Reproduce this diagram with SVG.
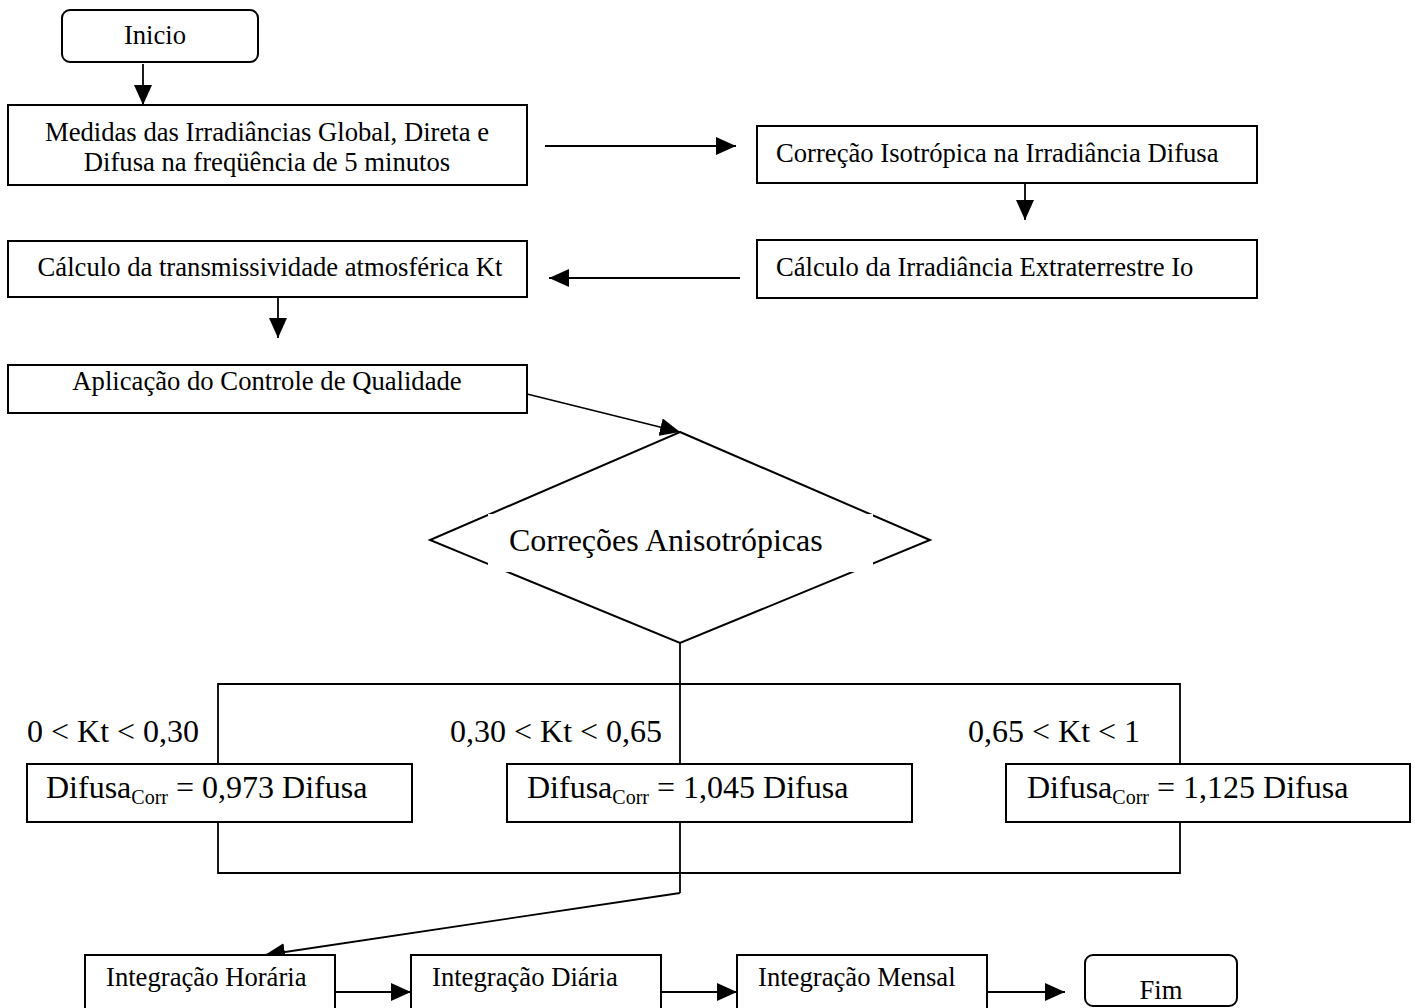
<svg xmlns="http://www.w3.org/2000/svg" width="1415" height="1008" viewBox="0 0 1415 1008">
<style>
.box{fill:#fff;stroke:#000;stroke-width:2}
.ln{fill:none;stroke:#000;stroke-width:1.8}
.t{font-family:"Liberation Serif","Times New Roman",serif;font-size:26.67px;fill:#000}
.b{font-family:"Liberation Serif","Times New Roman",serif;font-size:32px;fill:#000}
.s{font-size:20px}
</style>
<defs>
<marker id="ah" viewBox="0 0 20 18" refX="20" refY="9" markerWidth="20" markerHeight="18" markerUnits="userSpaceOnUse" orient="auto">
<path d="M0,0 L20,9 L0,18 z" fill="#000"/>
</marker>
</defs>
<rect width="1415" height="1008" fill="#fff"/>
<g id="connectors">
<line class="ln" x1="143" y1="64" x2="143" y2="105" marker-end="url(#ah)"/>
<line class="ln" x1="545" y1="146" x2="736" y2="146" marker-end="url(#ah)"/>
<line class="ln" x1="1025" y1="183" x2="1025" y2="220" marker-end="url(#ah)"/>
<line class="ln" x1="740" y1="278" x2="549" y2="278" marker-end="url(#ah)"/>
<line class="ln" x1="278" y1="297" x2="278" y2="338" marker-end="url(#ah)"/>
<line class="ln" x1="527" y1="394" x2="680" y2="432" marker-end="url(#ah)"/>
<line class="ln" x1="680" y1="643" x2="680" y2="764"/>
<polyline class="ln" points="218,764 218,684 1180,684 1180,764"/>
<polyline class="ln" points="218,822 218,873 1180,873 1180,822"/>
<line class="ln" x1="680" y1="822" x2="680" y2="893"/>
<line class="ln" x1="680" y1="893" x2="265" y2="955" marker-end="url(#ah)"/>
<line class="ln" x1="335" y1="992" x2="411" y2="992" marker-end="url(#ah)"/>
<line class="ln" x1="661" y1="992" x2="737" y2="992" marker-end="url(#ah)"/>
<line class="ln" x1="987" y1="992" x2="1065" y2="992" marker-end="url(#ah)"/>
</g>
<g id="inicio">
<rect class="box" x="62" y="10" width="196" height="52" rx="8"/>
<text class="t" x="155" y="44" text-anchor="middle">Inicio</text>
</g>
<g id="medidas">
<rect class="box" x="8" y="105" width="519" height="80"/>
<text class="t" x="267" y="141" text-anchor="middle">Medidas das Irradiâncias Global, Direta e</text>
<text class="t" x="267" y="171" text-anchor="middle">Difusa na freqüência de 5 minutos</text>
</g>
<g id="correcao-iso">
<rect class="box" x="757" y="126" width="500" height="57"/>
<text class="t" x="776" y="162">Correção Isotrópica na Irradiância Difusa</text>
</g>
<g id="extraterrestre">
<rect class="box" x="757" y="240" width="500" height="58"/>
<text class="t" x="776" y="276">Cálculo da Irradiância Extraterrestre Io</text>
</g>
<g id="transmissividade">
<rect class="box" x="8" y="241" width="519" height="56"/>
<text class="t" x="270" y="276" text-anchor="middle">Cálculo da transmissividade atmosférica Kt</text>
</g>
<g id="qualidade">
<rect class="box" x="8" y="365" width="519" height="48"/>
<text class="t" x="267" y="390" text-anchor="middle">Aplicação do Controle de Qualidade</text>
</g>
<g id="anisotropicas">
<polygon class="box" points="680,432 930,540 680,643 430,540"/>
<rect x="488" y="514" width="385" height="58" fill="#fff"/>
<text class="b" x="509" y="551">Correções Anisotrópicas</text>
</g>
<g id="labels">
<text class="b" x="27" y="742">0 &lt; Kt &lt; 0,30</text>
<text class="b" x="450" y="742">0,30 &lt; Kt &lt; 0,65</text>
<text class="b" x="968" y="742">0,65 &lt; Kt &lt; 1</text>
</g>
<g id="difusa1">
<rect class="box" x="27" y="764" width="385" height="58"/>
<text class="b" x="46" y="798">Difusa<tspan class="s" dy="6">Corr</tspan><tspan dy="-6"> = 0,973 Difusa</tspan></text>
</g>
<g id="difusa2">
<rect class="box" x="507" y="764" width="405" height="58"/>
<text class="b" x="527" y="798">Difusa<tspan class="s" dy="6">Corr</tspan><tspan dy="-6"> = 1,045 Difusa</tspan></text>
</g>
<g id="difusa3">
<rect class="box" x="1006" y="764" width="404" height="58"/>
<text class="b" x="1027" y="798">Difusa<tspan class="s" dy="6">Corr</tspan><tspan dy="-6"> = 1,125 Difusa</tspan></text>
</g>
<g id="horaria">
<rect class="box" x="85" y="955" width="250" height="70"/>
<text class="t" x="106" y="986">Integração Horária</text>
</g>
<g id="diaria">
<rect class="box" x="411" y="955" width="250" height="70"/>
<text class="t" x="432" y="986">Integração Diária</text>
</g>
<g id="mensal">
<rect class="box" x="737" y="955" width="250" height="70"/>
<text class="t" x="758" y="986">Integração Mensal</text>
</g>
<g id="fim">
<rect class="box" x="1085" y="955" width="152" height="51" rx="8"/>
<text class="t" x="1161" y="999" text-anchor="middle">Fim</text>
</g>
</svg>
